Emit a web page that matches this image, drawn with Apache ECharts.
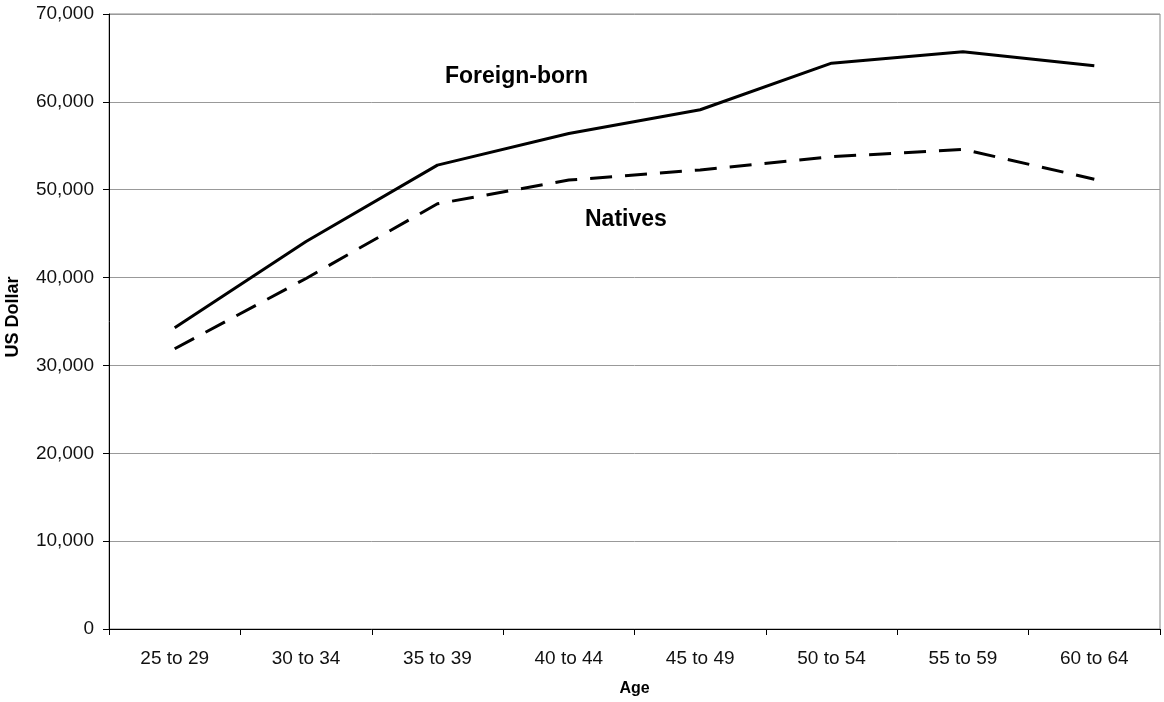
<!DOCTYPE html>
<html>
<head>
<meta charset="utf-8">
<script src="https://cdn.jsdelivr.net/npm/echarts@6/dist/echarts.min.js"></script>
<style>
html,body{margin:0;padding:0;background:#fff;overflow:hidden;}
#chart{width:1164px;height:702px;}
</style>
</head>
<body>
<div id="chart"></div>
<script>
const categories = ['25 to 29','30 to 34','35 to 39','40 to 44','45 to 49','50 to 54','55 to 59','60 to 64'];
const foreignBorn = [34300, 44100, 52800, 56400, 59100, 64400, 65700, 64100];
const natives = [31900, 39900, 48400, 51100, 52250, 53750, 54600, 51200];
const yTicks = {min: 0, max: 70000, interval: 10000};

const FONT = '"Liberation Sans", Arial, sans-serif';
const chart = echarts.init(document.getElementById('chart'));
chart.setOption({
  animation: false,
  backgroundColor: '#fff',
  grid: {left: 109, right: 4, top: 14, bottom: 70, show: true, borderColor: '#888', borderWidth: 1},
  xAxis: {
    type: 'category',
    data: categories,
    boundaryGap: true,
    name: 'Age',
    nameLocation: 'middle',
    nameGap: 52,
    nameTextStyle: {fontFamily: FONT, fontWeight: 'bold', fontSize: 16, color: '#000'},
    axisLine: {lineStyle: {color: '#000', width: 1}},
    axisTick: {show: true, length: 6, lineStyle: {color: '#000'}},
    axisLabel: {fontFamily: FONT, fontSize: 19, color: '#111', margin: 20}
  },
  yAxis: {
    type: 'value',
    min: yTicks.min, max: yTicks.max, interval: yTicks.interval,
    axisLine: {show: true, lineStyle: {color: '#000', width: 1}},
    axisTick: {show: true, length: 6, lineStyle: {color: '#000'}},
    axisLabel: {fontFamily: FONT, fontSize: 19, color: '#111', margin: 15,
      formatter: v => v.toLocaleString('en-US')},
    splitLine: {show: true, lineStyle: {color: '#999', width: 1}}
  },
  series: [
    {name: 'Foreign-born', type: 'line', data: foreignBorn, symbol: 'none',
      lineStyle: {color: '#000', width: 3, type: 'solid'}},
    {name: 'Natives', type: 'line', data: natives, symbol: 'none',
      lineStyle: {color: '#000', width: 3, type: [22, 13]}}
  ],
  graphic: [
    {type: 'text', x: 13, y: 317, rotation: Math.PI / 2,
      style: {text: 'US Dollar', font: 'bold 18px ' + FONT, fill: '#000', align: 'center', verticalAlign: 'middle'}},
    {type: 'text', x: 445, y: 77, style: {text: 'Foreign-born', font: 'bold 23px ' + FONT, fill: '#000', align: 'left', verticalAlign: 'middle'}},
    {type: 'text', x: 585, y: 220, style: {text: 'Natives', font: 'bold 23px ' + FONT, fill: '#000', align: 'left', verticalAlign: 'middle'}}
  ]
});
</script>
</body>
</html>
